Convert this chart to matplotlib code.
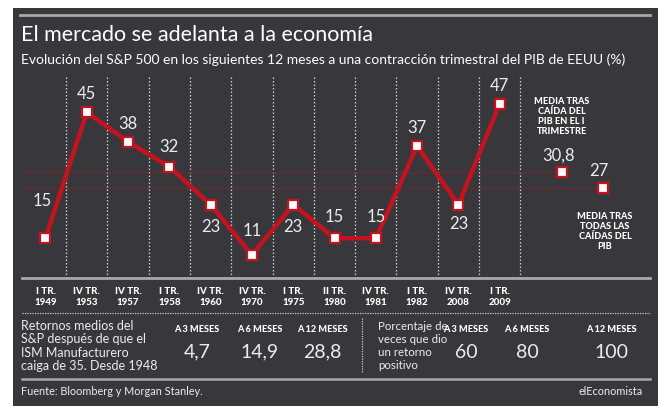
import matplotlib
matplotlib.use('Agg')
import matplotlib.pyplot as plt
from matplotlib.patches import Rectangle
from matplotlib.lines import Line2D

plt.rcParams['font.family'] = ['Lato', 'DejaVu Sans']

W, H = 664, 411

# data
periods = ['I TR.\n1949', 'IV TR.\n1953', 'IV TR.\n1957', 'I TR.\n1958', 'IV TR.\n1960',
           'IV TR.\n1970', 'I TR.\n1975', 'II TR.\n1980', 'IV TR.\n1981', 'I TR.\n1982',
           'IV TR.\n2008', 'I TR.\n2009']
returns = [15, 45, 38, 32, 23, 11, 23, 15, 15, 37, 23, 47]
mean_q1 = 30.8
mean_all = 27
table_heads = ['A 3 MESES', 'A 6 MESES', 'A 12 MESES']
ism_returns = ['4,7', '14,9', '28,8']
pct_positive = ['60', '80', '100']

BG = '#38383c'
RED = '#c4121f'
TXT = '#ececec'
GRID = '#d0d0d0'
HEAVY = 'black'


def fx(x):
    return x / W


def fy(y):
    return 1 - y / H


fig = plt.figure(figsize=(W / 100, H / 100), dpi=100, facecolor='white')
fig.patches.append(Rectangle((fx(13), fy(406)), fx(645), 398 / H, transform=fig.transFigure,
                             facecolor=BG, edgecolor='none', zorder=-5))


def hline(y, x0=22, x1=650, **kw):
    fig.add_artist(Line2D([fx(x0), fx(x1)], [fy(y), fy(y)], transform=fig.transFigure, **kw))


# header
hline(15, 20, 650, color='#a8a8a8', lw=2)
fig.text(fx(21), fy(35), 'El mercado se adelanta a la economía', color='white',
         fontsize=15.5, va='center', ha='left')
fig.text(fx(21), fy(60), 'Evolución del S&P 500 en los siguientes 12 meses a una contracción trimestral del PIB de EEUU (%)',
         color='white', fontsize=10.0, va='center', ha='left')

# chart
ax = fig.add_axes([fx(22), fy(278), fx(650 - 22), (278 - 76) / H])
ax.set_facecolor('none')
ax.set_xlim(-0.569, 14.64)
ax.set_ylim(5.52, 53.65)
ax.axis('off')

xs = list(range(len(returns)))
for i in range(len(returns)):
    ax.axvline(i + 0.5, color=GRID, lw=0.9, ls=(0, (1.2, 1.6)), zorder=1)

ax.plot([-0.569, 12.5], [mean_q1, mean_q1], color='#a01a22', lw=0.9, ls=(0, (1, 1)), zorder=2)
ax.plot([-0.569, 13.5], [mean_all, mean_all], color='#a01a22', lw=0.9, ls=(0, (1, 1)), zorder=2)

ax.plot(xs, returns, color=RED, lw=3.2, zorder=3, solid_joinstyle='miter')
ax.plot(xs, returns, ls='none', marker='s', ms=7.5, mfc='white', mec=RED, mew=1.6, zorder=4)
ax.plot([12.5, 13.5], [mean_q1, mean_all], ls='none', marker='s', ms=7.5, mfc='white',
        mec=RED, mew=1.6, zorder=4)

offsets = [27, 13, 13, 14, -16, 17, -16, 15, 15, 13, -14, 13]
for x, v, off in zip(xs, returns, offsets):
    ax.annotate(str(v), (x, v), xytext=(-2 if x == 0 else 0, off), textcoords='offset points',
                ha='center', va='center', color=TXT, fontsize=12)
ax.annotate(f'{mean_q1}'.replace('.', ','), (12.5, mean_q1), xytext=(-2, 12),
            textcoords='offset points', ha='center', va='center', color=TXT, fontsize=12)
ax.annotate(f'{mean_all}', (13.5, mean_all), xytext=(-3, 12),
            textcoords='offset points', ha='center', va='center', color=TXT, fontsize=12)

ax.text(12.5, 44.0, 'MEDIA TRAS\nCAÍDA DEL\nPIB EN EL I\nTRIMESTRE', ha='center', va='center',
        color='white', fontsize=6.6, fontweight=HEAVY, linespacing=1.15)
ax.text(13.55, 16.5, 'MEDIA TRAS\nTODAS LAS\nCAÍDAS DEL\nPIB', ha='center', va='center',
        color='white', fontsize=6.6, fontweight=HEAVY, linespacing=1.15)

# category axis
hline(278, 22, 650, color='#a8a8a8', lw=2)
for i, lab in enumerate(periods):
    px = 45.5 + 41.3 * i
    fig.text(fx(px), fy(297), lab, ha='center', va='center', color='white', fontsize=7.0,
             fontweight=HEAVY, linespacing=1.4)

# table
hline(313, 22, 650, color='#c8c8c8', lw=0.9, ls=(0, (1, 1)))
fig.text(fx(21), fy(346), 'Retornos medios del\nS&P después de que el\nISM Manufacturero\ncaiga de 35. Desde 1948',
         ha='left', va='center', color=TXT, fontsize=9.0, linespacing=1.12)
fig.text(fx(378), fy(346), 'Porcentaje de\nveces que dio\nun retorno\npositivo',
         ha='left', va='center', color=TXT, fontsize=8.3, linespacing=1.2)
fig.add_artist(Line2D([fx(362), fx(362)], [fy(318), fy(372)], transform=fig.transFigure,
                      color='#c8c8c8', lw=0.9, ls=(0, (1, 1))))
for px, head, val in zip([197, 260, 322], table_heads, ism_returns):
    fig.text(fx(px), fy(329), head, ha='center', va='center', color='white', fontsize=6.6,
             fontweight=HEAVY)
    fig.text(fx(px), fy(352), val, ha='center', va='center', color=TXT, fontsize=14)
for px, head, val in zip([466, 527, 611], table_heads, pct_positive):
    fig.text(fx(px), fy(329), head, ha='center', va='center', color='white', fontsize=6.6,
             fontweight=HEAVY)
    fig.text(fx(px), fy(352), val, ha='center', va='center', color=TXT, fontsize=14)

# footer
hline(379, 22, 650, color='#a8a8a8', lw=1.8)
fig.text(fx(21), fy(391), 'Fuente: Bloomberg y Morgan Stanley.', ha='left', va='center',
         color=TXT, fontsize=7.8)
fig.text(fx(643), fy(391), 'elEconomista', ha='right', va='center', color=TXT, fontsize=7.8)

fig.savefig('out.png', dpi=100, facecolor='white')
